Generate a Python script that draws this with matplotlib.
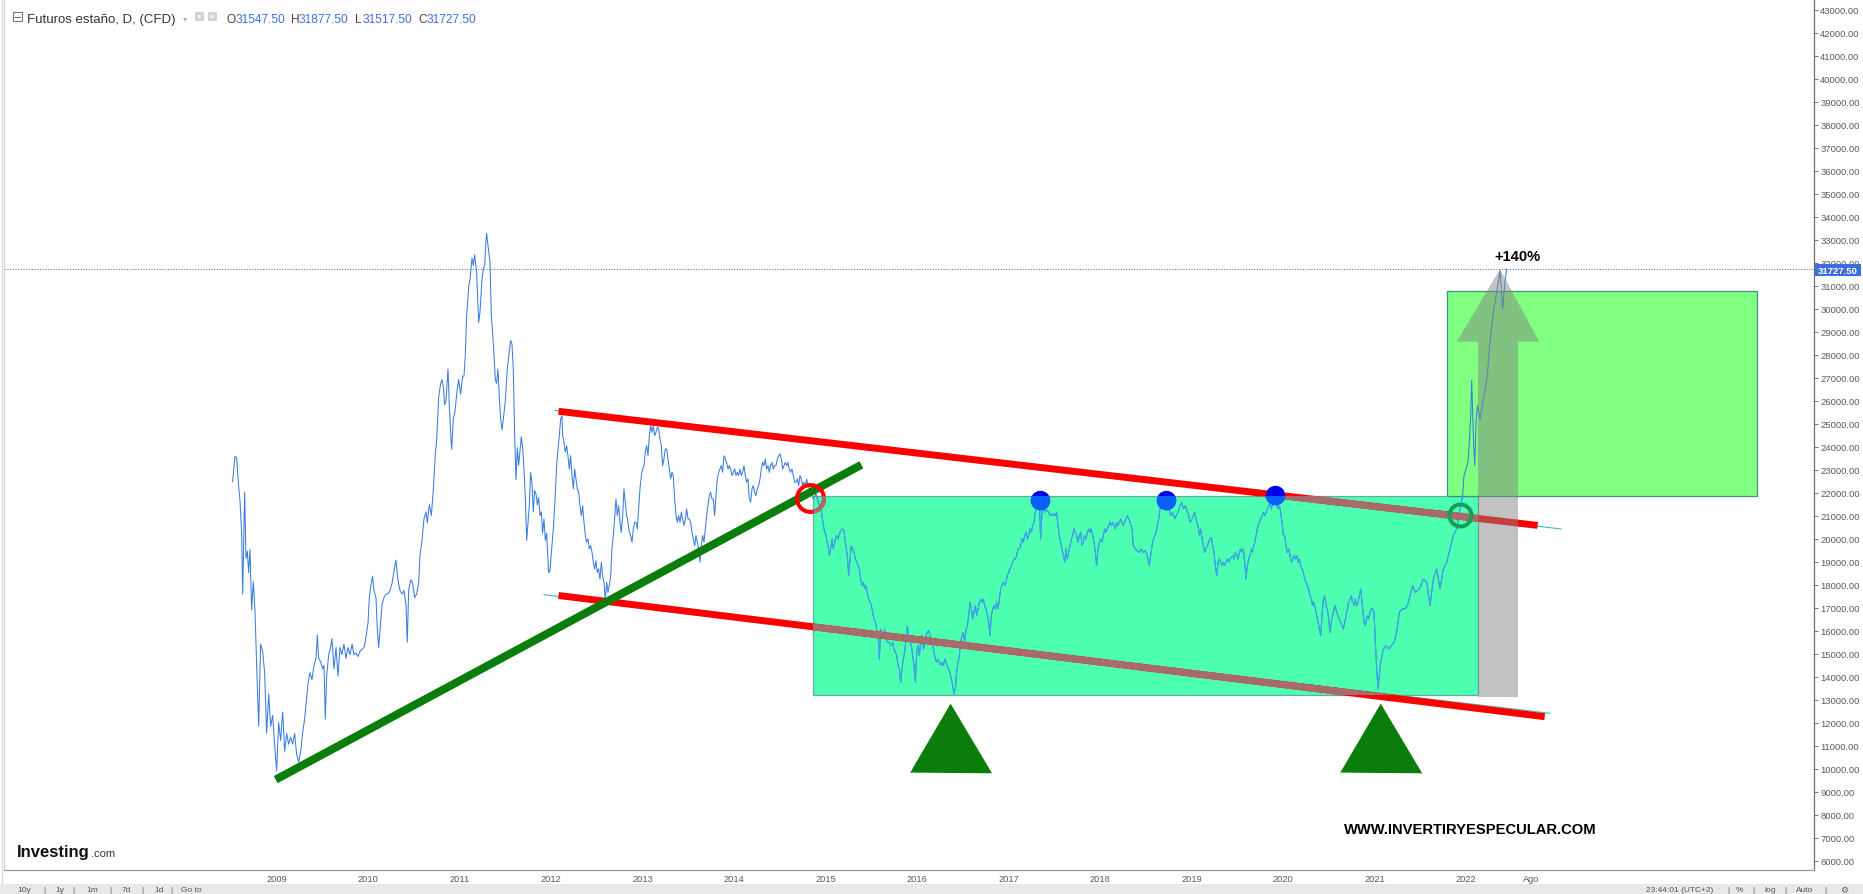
import numpy as np
import matplotlib
matplotlib.use("Agg")
import matplotlib.pyplot as plt
from matplotlib.patches import Rectangle, Polygon

plt.rcParams['font.family'] = ['Liberation Sans', 'DejaVu Sans']

W, H, DPI = 1863, 895, 100

# ---------------- data: position on the chart's time axis (years) and price ----------------
dates_a = [2008.517,2008.543,2008.561,2008.579,2008.598,2008.616,2008.627,2008.649,2008.663,2008.678,
           2008.692,2008.707,2008.725,2008.743,2008.762,2008.780,2008.802,2008.823,2008.845,2008.867,
           2008.889,2008.911,2008.933,2008.955,2008.976,2008.998,2009.020,2009.042,2009.064,2009.086,
           2009.108,2009.129,2009.151,2009.173,2009.195,2009.217,2009.239,2009.261,2009.282,2009.304,
           2009.319,2009.341,2009.363,2009.384,2009.406,2009.428,2009.443,2009.457,2009.479,2009.501,
           2009.516,2009.530,2009.545,2009.567,2009.588,2009.603,2009.625,2009.647,2009.669,2009.690,
           2009.712,2009.734,2009.756,2009.778,2009.800,2009.822,2009.843,2009.865,2009.887,2009.909,
           2009.931,2009.953,2009.975,2009.997,2010.011,2010.026,2010.047,2010.062,2010.084,2010.099,
           2010.113,2010.128,2010.150,2010.171,2010.193,2010.215,2010.237,2010.259,2010.281,2010.302,
           2010.324,2010.346,2010.368,2010.390,2010.412,2010.426,2010.441,2010.463,2010.485,2010.506,
           2010.528,2010.550,2010.565,2010.587,2010.608,2010.630,2010.645,2010.667,2010.689,2010.710,
           2010.732,2010.747,2010.769,2010.791,2010.805,2010.820,2010.834,2010.849,2010.871,2010.885,
           2010.900,2010.911,2010.929,2010.947,2010.966,2010.987,2011.009,2011.031,2011.046,2011.060,
           2011.075,2011.097,2011.111,2011.133,2011.148,2011.162,2011.184,2011.206,2011.221,2011.242,
           2011.257,2011.272,2011.286,2011.293,2011.315,2011.330,2011.344,2011.359,2011.374,2011.388,
           2011.403,2011.417,2011.432,2011.446,2011.461,2011.476,2011.497,2011.519,2011.541,2011.556,
           2011.570,2011.585,2011.599,2011.614,2011.629,2011.643,2011.658,2011.672,2011.687,2011.701,
           2011.716,2011.731,2011.745,2011.760,2011.774,2011.789,2011.803,2011.818,2011.833,2011.847,
           2011.862,2011.876,2011.891,2011.905,2011.920,2011.935,2011.949,2011.971]
close_a = [22500,23590,23540,22500,21640,20250,17610,22030,19160,19470,
           18540,19550,16910,18150,16830,14500,11860,15430,15120,14190,
           11550,13260,11860,12330,11080,9920,12020,11240,12480,10770,
           11550,11080,11390,11080,11550,10620,10310,10770,11550,12170,
           12790,13720,14190,13880,14500,14810,15820,14810,14660,14350,
           14500,12170,14040,14970,15280,15670,14350,15280,14040,15280,
           14970,15430,14810,15280,14970,15430,14970,15040,14890,15120,
           15200,15280,15740,16360,17450,17920,18380,17760,17450,16050,
           15280,16050,17140,17450,17610,17610,17760,18070,18620,19080,
           18230,17760,17610,17760,17140,15510,17760,18230,18070,17450,
           17610,18070,19320,19940,20870,21180,20710,21490,21020,22110,
           23660,24280,26150,26770,26930,26610,25840,25990,27390,25840,
           24600,23900,25220,25530,26300,26930,26300,27080,27080,28010,
           29720,30960,31270,32210,31890,32360,31580,29410,29880,31270,
           31740,31890,32980,33290,32520,32050,29720,28940,28010,26930,
           26770,27390,26150,25220,24750,25220,25990,27390,28170,28630,
           28480,27390,24600,22580,23970,23200,23820,24440,23970,23040,
           21800,19940,20710,21490,22890,22420,21180,22110,21960,21490,
           21800,21020,21180,20250,20870,19940,20250,18540]

dates_b = [2011.986,2012.004,2012.022,2012.041,2012.059,2012.073,2012.088,2012.102,2012.117,
           2012.124,2012.139,2012.153,2012.168,2012.182,2012.197,2012.211,2012.226,2012.241,2012.255,
           2012.270,2012.284,2012.299,2012.313,2012.328,2012.343,2012.357,2012.372,2012.386,2012.401,
           2012.415,2012.430,2012.445,2012.459,2012.474,2012.488,2012.503,2012.517,2012.532,2012.547,
           2012.561,2012.576,2012.590,2012.605,2012.619,2012.634,2012.649,2012.663,2012.678,2012.692,
           2012.707,2012.721,2012.736,2012.751,2012.765,2012.780,2012.794,2012.809,2012.823,2012.838,
           2012.853,2012.867,2012.882,2012.896,2012.911,2012.925,2012.940,2012.955,2012.969,2012.984,
           2012.998,2013.013,2013.027,2013.042,2013.057,2013.071,2013.086,2013.100,2013.115,2013.129,
           2013.144,2013.159,2013.173,2013.188,2013.202,2013.217,2013.231,2013.246,2013.261,2013.275,
           2013.290,2013.304,2013.319,2013.333,2013.348,2013.363,2013.377,2013.392,2013.406,2013.421,
           2013.435,2013.450,2013.465,2013.479,2013.494,2013.508,2013.523,2013.537,2013.552,2013.567,
           2013.581,2013.596,2013.610,2013.625,2013.639,2013.654,2013.669,2013.683,2013.698,2013.712,
           2013.727,2013.741,2013.756,2013.771,2013.785,2013.800,2013.814,2013.829,2013.843,2013.858,
           2013.873,2013.887,2013.902,2013.916,2013.931,2013.945,2013.960,2013.975,2013.989,2014.004,
           2014.018,2014.033,2014.047,2014.062,2014.077,2014.091,2014.106,2014.120,2014.135,2014.149,
           2014.164,2014.179,2014.193,2014.208,2014.222,2014.237,2014.251,2014.266,2014.281,2014.295,
           2014.310,2014.324,2014.339,2014.353,2014.368,2014.383,2014.397,2014.412,2014.426,2014.441,
           2014.455,2014.470,2014.485,2014.499,2014.514,2014.528,2014.543,2014.557,2014.572,2014.587,
           2014.601,2014.616,2014.630,2014.645,2014.659,2014.674,2014.689,2014.703,2014.718,2014.732,
           2014.747,2014.761,2014.776,2014.791,2014.805,2014.820,2014.834,2014.849,2014.863]
close_b = [18630,19570,20440,21740,23190,23910,24490,25220,25360,24490,
           24200,23770,24060,23620,23040,23620,22760,22180,23040,22610,
           22180,22030,21450,21020,21450,20730,20150,19860,20000,19570,
           19710,19420,18990,18700,19060,18550,18700,18260,18990,18410,
           18120,17390,18120,17680,17970,18410,19570,20150,20870,21740,
           21020,21450,20730,20290,21020,22180,21600,21020,20730,20290,
           20150,19860,20440,20730,20730,20440,21310,22180,22760,23040,
           23190,23770,24060,23620,24490,24930,24640,24930,24490,24640,
           24860,24780,24350,24060,23190,23480,23910,23910,23480,23040,
           22610,22900,22760,21740,21020,20730,21020,20730,21160,20870,
           20580,20870,21310,20870,20870,20730,20290,20000,19710,20150,
           19860,19570,18990,19710,20150,19860,20440,21020,21450,21890,
           22030,21740,21740,21020,21890,22610,22900,23040,23190,22900,
           23620,23480,23330,23040,23190,23040,22760,22900,23040,22760,
           22900,22760,23040,22760,22900,23190,22760,22470,22610,21740,
           21600,22180,22320,22030,21890,22180,22320,22610,23040,23330,
           23190,23480,23040,23190,22900,23190,23330,23040,23190,23190,
           23480,23620,23700,23480,23040,23190,23330,23190,23330,23040,
           22900,23040,22760,22470,22470,22610,22320,22760,22610,22320,
           22470,22320,22610,22320,22180,22030,21890,21740]

dates_c = [2014.893,2014.918,2014.944,2014.958,2014.980,2015.002,2015.024,2015.039,2015.053,2015.068,
           2015.082,2015.097,2015.119,2015.133,2015.155,2015.177,2015.199,2015.213,2015.235,
           2015.250,2015.265,2015.279,2015.294,2015.308,2015.323,2015.337,2015.352,2015.367,2015.381,
           2015.396,2015.410,2015.425,2015.439,2015.454,2015.469,2015.483,2015.498,2015.512,2015.527,
           2015.541,2015.556,2015.571,2015.585,2015.600,2015.614,2015.629,2015.643,2015.658,2015.673,
           2015.687,2015.702,2015.716,2015.731,2015.745,2015.760,2015.775,2015.789,2015.804,2015.818,
           2015.833,2015.847,2015.862,2015.877,2015.891,2015.906,2015.920,2015.935,2015.949,2015.964,
           2015.979,2015.993,2016.008,2016.022,2016.037,2016.051,2016.066,2016.081,2016.095,2016.110,
           2016.124,2016.139,2016.153,2016.168,2016.183,2016.197,2016.212,2016.226,2016.241,2016.255,
           2016.270,2016.285,2016.299,2016.314,2016.328,2016.343,2016.357,2016.372,2016.387,2016.401,
           2016.416,2016.430,2016.445,2016.459,2016.474,2016.489,2016.503,2016.518,2016.532,2016.547,
           2016.561,2016.576,2016.591,2016.605,2016.620,2016.634,2016.649,2016.663,2016.678,2016.693,
           2016.707,2016.722,2016.736,2016.751,2016.765,2016.780,2016.795,2016.809,2016.824,2016.838,
           2016.853,2016.867,2016.882,2016.897,2016.911,2016.926,2016.940,2016.955,2016.969,2016.984,
           2016.999,2017.013,2017.028,2017.042,2017.057,2017.071,2017.086,2017.101,2017.115,2017.130,
           2017.144,2017.159,2017.173,2017.188,2017.203,2017.217,2017.232,2017.246,2017.261,2017.275,
           2017.290,2017.305,2017.319,2017.334,2017.348,2017.363,2017.377,2017.392,2017.407,2017.421,
           2017.436,2017.450,2017.465,2017.479,2017.494,2017.509,2017.523,2017.538,2017.552,2017.567,
           2017.582,2017.596,2017.611,2017.625,2017.640,2017.654,2017.669,2017.684,2017.698,2017.713,
           2017.727,2017.742,2017.756,2017.771,2017.786,2017.800,2017.815,2017.829,2017.844,2017.858,
           2017.873,2017.888,2017.902,2017.917,2017.931,2017.946,2017.960,2017.975,2017.990,2018.004,
           2018.019,2018.033,2018.048,2018.062,2018.077,2018.092,2018.106,2018.121,2018.135,2018.150,
           2018.164,2018.179,2018.194,2018.208,2018.223,2018.237,2018.252,2018.266,2018.281,2018.296,
           2018.310]
close_c = [21960,21590,21310,21010,20440,20150,19710,19280,19570,20000,
           19570,19860,20150,20000,20290,20440,20360,19860,19280,18410,
           19130,19710,19570,19420,19130,18990,18840,18700,18260,17970,
           18120,17830,17970,17680,17390,17250,17100,16810,16520,16380,
           16090,15800,14780,16090,15800,15800,16090,15650,15510,15510,
           15440,15360,15510,15220,15070,14930,14490,14350,13770,14350,
           14780,15070,15650,16230,15800,15510,15360,14930,14490,13770,
           15070,15360,14930,15510,15800,15220,15360,15800,15940,16020,
           15800,15650,15360,15070,14780,14640,14780,14640,14490,14640,
           14490,14780,14640,14490,14350,14200,13910,13630,13260,13480,
           14200,14640,14930,15510,15800,15940,15510,16090,16230,16670,
           17250,16960,16520,16810,17100,16670,16960,17250,17390,17250,
           17390,17100,16960,16670,16380,15800,16670,16960,17100,16960,
           17250,16960,17390,17830,17970,18120,17970,18120,18410,18550,
           18700,18840,18990,19130,19130,19280,19570,19570,19710,20000,
           19860,20150,20290,20000,20150,20440,20290,20580,20730,21160,
           21450,21310,21590,20000,21160,21450,21160,21310,21230,21160,
           21010,21090,21010,21090,21010,21160,20580,20150,19860,19570,
           19280,18990,19570,19130,19420,19710,20000,20150,20440,20290,
           20150,19860,20150,20290,19710,19860,20150,20000,20290,20440,
           20290,20440,20150,19860,19420,18840,19570,19860,20000,19860,
           20150,20440,20290,20440,20580,20730,20580,20730,20580,20440,
           20730,20580,20730,20870,20730,20580,20730,20870,21010,20870]

dates_d = [2018.325,2018.347,2018.361,2018.383,2018.405,2018.427,2018.449,2018.471,2018.492,2018.514,
           2018.536,2018.551,2018.565,2018.580,2018.594,2018.609,2018.624,2018.638,2018.653,2018.667,
           2018.682,2018.696,2018.711,2018.726,2018.747,2018.769,2018.791,2018.813,2018.828,2018.849,
           2018.871,2018.893,2018.908,2018.930,2018.951,2018.966,2018.981,2019.002,2019.017,2019.032,
           2019.053,
           2019.068,2019.083,2019.097,2019.112,2019.126,2019.141,2019.155,2019.170,2019.185,2019.199,
           2019.214,2019.228,2019.243,2019.257,2019.272,2019.287,2019.301,2019.316,2019.330,2019.345,
           2019.359,2019.374,2019.389,2019.403,2019.418,2019.432,2019.447,2019.461,2019.476,2019.491,
           2019.505,2019.520,2019.534,2019.549,2019.563,2019.578,2019.593,2019.607,2019.622,2019.636,
           2019.651,2019.665,2019.680,2019.695,2019.709,2019.724,2019.738,2019.753,2019.767,2019.782,
           2019.797,2019.811,2019.826,2019.840,2019.855,2019.869,2019.884,2019.899,2019.913,2019.928,
           2019.942,2019.957,2019.971,2019.986,2020.001,2020.015,2020.030,2020.044,2020.059,2020.073,
           2020.088,2020.103,2020.117,2020.132,2020.146,2020.161,2020.175,2020.190,2020.205,2020.219,
           2020.234,2020.248,2020.263,2020.277,2020.292,2020.307,2020.321,2020.336,2020.350,2020.365,
           2020.379,2020.394,2020.409,2020.423,2020.438,2020.452,2020.467,2020.481,2020.496,2020.511,
           2020.525,2020.540,2020.554,2020.569,2020.583,2020.598,2020.613,2020.627,2020.642,2020.656,
           2020.671,2020.685,2020.700,2020.715,2020.729,2020.744,2020.758,2020.773,2020.787,2020.802,
           2020.817,2020.831,2020.846,2020.860,2020.875,2020.889,2020.904,2020.919,2020.933,2020.948,
           2020.962,2020.977,2020.991,2021.006,2021.021,2021.035,2021.050,
           2021.064,2021.094,2021.123,2021.152,2021.181,2021.210,2021.239,2021.268,2021.298,2021.327,
           2021.356,2021.385,2021.414,2021.443,2021.487]
close_d = [20730,20440,19710,19570,19490,19420,19570,19420,19490,19280,
           18840,19280,19710,20000,20150,20290,20580,20870,21310,21450,
           21590,21670,21590,21670,21450,21010,21160,20870,21010,21160,
           21450,21590,21310,21450,21160,21010,20730,20870,21010,21160,
           20730,20580,20150,20440,20000,19710,19420,19570,19710,19860,
           20000,20070,19710,19420,18840,18410,18990,19130,18990,18840,
           18990,18840,18990,19130,18990,19130,19200,19280,19130,19420,
           19280,19130,19420,19570,19420,19570,18990,18260,18840,19130,
           19280,19570,19420,19710,20000,20290,20580,20730,20870,21010,
           21160,21010,21160,21310,21450,21520,21310,21520,21590,21590,
           21450,21310,21450,21160,20730,20150,20150,19710,19420,19570,
           19280,18990,19130,19280,19130,19280,18990,19130,18840,18700,
           18550,18260,18120,17970,17830,17540,17390,17100,17250,16960,
           16670,16380,16090,15800,16670,17390,17540,17100,16960,16520,
           15940,16380,16670,16960,17100,16810,16670,16520,16380,16230,
           16090,16380,16670,16960,17250,17390,17540,17250,17100,17390,
           17100,17250,17540,17830,17250,16670,16230,16380,16670,16520,
           16810,16960,16960,16810,15510,14350,13480,14060,14640,15220,
           15360,15220,15360,15510,15940,16810,16960,16960,17100,17540,
           17970,17680,17830]

dates_e = [2021.531,2021.567,2021.603,2021.640,2021.676,2021.713,2021.749,2021.786,2021.822,2021.858,
           2021.895,2021.931,2021.960,2021.975,2021.997,2022.019,2022.033,2022.048,2022.059,2022.077,
           2022.092,2022.106,2022.121,2022.135,2022.150,2022.168,2022.186,2022.208,2022.230,2022.252,
           2022.274,2022.296,2022.314,2022.332,2022.350,2022.369,2022.383,2022.398,2022.412,2022.427,
           2022.441]
close_e = [18260,18120,17100,18260,18700,17830,18700,18990,19570,20150,
           20440,21310,21890,22760,23050,23340,24210,25360,26890,24490,
           23190,25070,25800,25510,25220,25650,26090,26520,27100,28260,
           29130,29860,30290,30730,31160,31670,30870,30000,30730,31310,
           31727.5]

year_ticks = [2009, 2010, 2011, 2012, 2013, 2014, 2015, 2016, 2017, 2018, 2019, 2020, 2021, 2022]
year_labels = [str(y) for y in year_ticks]
month_tick = 2022.714
month_label = 'Ago'
price_ticks = list(range(6000, 43001, 1000))

title = 'Futuros estaño, D, (CFD)'
ohlc_keys = ['O', 'H', 'L', 'C']
ohlc_vals = ['31547.50', '31877.50', '31517.50', '31727.50']
last_close = 31727.50

# drawings (time, price anchors)
upper_trend_d = [2012.079, 2022.779]
upper_trend_p = [25552, 20591]
upper_ext_d = [2012.040, 2023.035]
upper_ext_p = [25590, 20435]
lower_trend_d = [2012.079, 2022.857]
lower_trend_p = [17543, 12274]
lower_ext_d = [2011.920, 2022.915]
lower_ext_p = [17578, 12422]
support_d = [2008.988, 2015.389]
support_p = [9539, 23226]
range_d = [2014.857, 2022.124]
range_p = [13196, 21883]
target_d = [2021.786, 2025.177]
target_p = [21883, 30770]
tops_d = [2017.338, 2018.716, 2019.909]
tops_p = [21710, 21710, 21913]
bottoms_d = [2016.364, 2021.065]
bottoms_p = [12843, 12843]
break_red = (2014.822, 21783)
break_green = (2021.933, 21057)
arrow_d = 2022.346
arrow_base_p = 13130
arrow_head_p = 28578
gain_label = '+140%'
gain_pos = (2022.560, 32326)
site_label = 'WWW.INVERTIRYESPECULAR.COM'

dates = np.array(dates_a + dates_b + dates_c + dates_d + dates_e)
close = np.array(close_a + close_b + close_c + close_d + close_e)

fig = plt.figure(figsize=(W / DPI, H / DPI), dpi=DPI, facecolor='white')


def fx(x):
    return x / W


def fy(y):
    return 1 - y / H


AX_L, AX_R, AX_T, AX_B = 4, 1814, 0, 871
PX_PER_YEAR = 91.5
X2009 = 276.8
ax = fig.add_axes([fx(AX_L), fy(AX_B), (AX_R - AX_L) / W, (AX_B - AX_T) / H])
ax.set_xlim(2009 + (AX_L - X2009) / PX_PER_YEAR, 2009 + (AX_R - X2009) / PX_PER_YEAR)
ymin = 43000 - (AX_B - 11) / 0.023
ymax = 43000 + (11 - AX_T) / 0.023
ax.set_ylim(ymin, ymax)
ax.set_facecolor('white')

ax.spines['top'].set_visible(False)
ax.spines['left'].set_color('#d0d0d0')
ax.spines['left'].set_linewidth(0.8)
ax.spines['right'].set_color('#707070')
ax.spines['right'].set_linewidth(0.9)
ax.spines['bottom'].set_color('#9a9a9a')
ax.spines['bottom'].set_linewidth(0.9)

ax.yaxis.tick_right()
ax.set_yticks(price_ticks)
ax.set_yticklabels([f'{v:.2f}' for v in price_ticks])
ax.tick_params(axis='y', length=3, width=0.7, color='#777777', labelsize=6.8,
               labelcolor='#5a5a5a', pad=1.5)
ax.set_xticks(year_ticks + [month_tick])
ax.set_xticklabels(year_labels + [month_label])
ax.tick_params(axis='x', length=0, labelsize=6.7, labelcolor='#5a5a5a', pad=3)

BLUE = '#3b7ddd'
MINT = '#4dffb0'
RED = '#ff0000'
RED_IN = '#a86a6a'
GREEN = '#0b7d0b'

# rectangles
rng = Rectangle((range_d[0], range_p[0]), range_d[1] - range_d[0], range_p[1] - range_p[0],
                facecolor=MINT, edgecolor='#6aa8a2', lw=0.9, zorder=1)
ax.add_patch(rng)
tgt = Rectangle((target_d[0], target_p[0]), target_d[1] - target_d[0], target_p[1] - target_p[0],
                facecolor='#80ff80', edgecolor='#3d8f8f', lw=0.9, zorder=1)
ax.add_patch(tgt)

# last price dotted line
ax.axhline(last_close, color='#4a78e0', lw=0.7, ls=(0, (1.2, 1.6)), zorder=2)

# price line (lighter where it lies under the range box)
ax.plot(dates, close, color=BLUE, lw=0.75, zorder=3)
pin, = ax.plot(dates, close, color='#3aa8e8', lw=0.75, zorder=3.05)
pin.set_clip_path(rng)

# thin teal trendlines under the painted ones
ax.plot(upper_ext_d, upper_ext_p, color='#45b8a8', lw=0.8, zorder=3.5)
ax.plot(lower_ext_d, lower_ext_p, color='#45b8a8', lw=0.8, zorder=3.5)

# painted trend lines
for d, p in [(upper_trend_d, upper_trend_p), (lower_trend_d, lower_trend_p)]:
    ax.plot(d, p, color=RED, lw=5.0, solid_capstyle='butt', zorder=4)
    l2, = ax.plot(d, p, color=RED_IN, lw=5.0, solid_capstyle='butt', zorder=4.05)
    l2.set_clip_path(rng)
ax.plot(support_d, support_p, color=GREEN, lw=5.8, solid_capstyle='butt', zorder=4.1)

# breakout circles
ax.plot([break_red[0]], [break_red[1]], marker='o', ms=19.4, mfc='none', mec=RED, mew=2.9, zorder=4.2)
c2, = ax.plot([break_red[0]], [break_red[1]], marker='o', ms=19.4, mfc='none', mec=RED_IN, mew=2.9,
              zorder=4.25)
c2.set_clip_path(rng)
ax.plot([break_green[0]], [break_green[1]], marker='o', ms=15.8, mfc='none', mec='#14a05a', mew=2.9,
        zorder=4.2)

# tops
ax.plot(tops_d, tops_p, ls='none', marker='o', ms=14, mfc='#0000f0', mec='none', zorder=4.3)
t2, = ax.plot(tops_d, tops_p, ls='none', marker='o', ms=14, mfc='#0a60ff', mec='none', zorder=4.35)
t2.set_clip_path(rng)

# bottoms (triangles)
for bd, bp in zip(bottoms_d, bottoms_p):
    tri = Polygon([[bd, bp], [bd - 0.442, bp - 3000], [bd + 0.453, bp - 3030]], closed=True,
                  facecolor=GREEN, edgecolor='none', zorder=7)
    ax.add_patch(tri)

# arrow
sh, hh = 0.219, 0.451
arr = Polygon([[arrow_d - sh, arrow_base_p], [arrow_d - sh, arrow_head_p], [arrow_d - hh, arrow_head_p],
               [arrow_d + 0.022, last_close], [arrow_d + hh, arrow_head_p], [arrow_d + sh, arrow_head_p],
               [arrow_d + sh, arrow_base_p]], closed=True, facecolor='#848484', edgecolor='none',
              alpha=0.49, zorder=6)
ax.add_patch(arr)

ax.text(gain_pos[0], gain_pos[1], gain_label, fontsize=10.5, fontweight='bold', color='black',
        ha='center', va='center', zorder=8)
fig.text(fx(1470), fy(830.5), site_label, fontsize=10.6, fontweight='bold', color='black',
         ha='center', va='center')

# price box on the axis
fig.add_artist(Rectangle((fx(1815), fy(277)), 46 / W, 12 / H, transform=fig.transFigure,
                         facecolor='#3d6ee0', edgecolor='none', zorder=10))
fig.text(fx(1838), fy(271), f'{last_close:.2f}', fontsize=6.8, fontweight='bold', color='white',
         ha='center', va='center', zorder=11)

# header
fig.add_artist(Rectangle((fx(13), fy(22)), 9 / W, 9 / H, transform=fig.transFigure,
                         facecolor='white', edgecolor='#777777', lw=0.8))
fig.add_artist(plt.Line2D([fx(15), fx(20)], [fy(17.5), fy(17.5)], transform=fig.transFigure,
                          color='#777777', lw=0.8))
fig.text(fx(27), fy(23), title, fontsize=9.5, color='#333333', va='baseline')
fig.text(fx(183), fy(21), '▾', fontsize=6, color='#b0b0b0', va='baseline', family='DejaVu Sans')
for x0 in (195, 208):
    fig.add_artist(Rectangle((fx(x0), fy(22)), 9 / W, 9 / H, transform=fig.transFigure,
                             facecolor='#d4d4d4', edgecolor='none'))
    fig.add_artist(Rectangle((fx(x0 + 3), fy(19)), 3 / W, 3 / H, transform=fig.transFigure,
                             facecolor='#f0f0f0', edgecolor='none'))
for k, v, xk, xv in zip(ohlc_keys, ohlc_vals, [226.7, 290.7, 355, 418.3], [235.7, 299, 362.7, 426.7]):
    fig.text(fx(xk), fy(23), k, fontsize=8.6, color='#444444', va='baseline')
    fig.text(fx(xv), fy(23), v, fontsize=8.6, color='#3d6fe0', va='baseline')

# left border
fig.add_artist(plt.Line2D([fx(2), fx(2)], [fy(0), fy(884)], transform=fig.transFigure,
                          color='#d8d8d8', lw=0.8))

# investing logo
fig.text(fx(17), fy(857), 'Investing', fontsize=12, fontweight='bold', color='#111111', va='baseline')
fig.text(fx(91), fy(857), '.com', fontsize=8, color='#333333', va='baseline')

# footer band
fig.add_artist(Rectangle((0, 0), 1, (H - 885) / H, transform=fig.transFigure,
                         facecolor='#e8e8e8', edgecolor='none'))
for s, x in [('10y', 17), ('|', 43), ('1y', 55), ('|', 72), ('1m', 86), ('|', 109), ('7d', 122),
             ('|', 141), ('1d', 154), ('|', 170), ('Go to', 181)]:
    fig.text(fx(x), fy(892.5), s, fontsize=6.0, color='#555555', va='baseline')
for s, x in [('23:44:01 (UTC+2)', 1646), ('|', 1727), ('%', 1736), ('|', 1752), ('log', 1764),
             ('|', 1784), ('Auto', 1796), ('|', 1824)]:
    fig.text(fx(x), fy(892.5), s, fontsize=6.0, color='#555555', va='baseline')
fig.text(fx(1840), fy(892.5), '⚙', fontsize=6.5, color='#666666', va='baseline', family='DejaVu Sans')

fig.savefig('out.png', dpi=DPI, facecolor='white')
